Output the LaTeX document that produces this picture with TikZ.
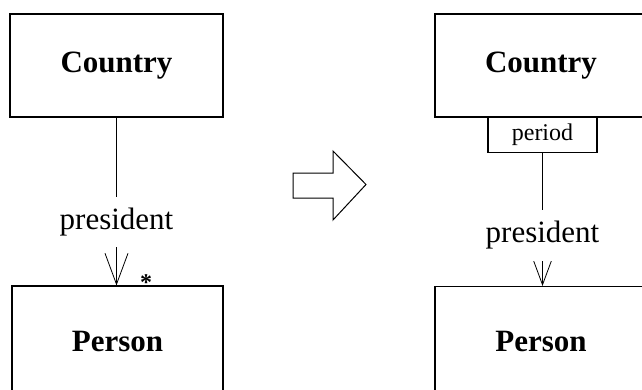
\documentclass[tikz,border=0pt]{standalone}
\usepackage{fontspec}
\setmainfont{Liberation Serif}
\usetikzlibrary{arrows.meta}

\tikzset{
	classbox/.style = {draw, line width=1.1pt, font=\fontsize{31}{36}\selectfont\bfseries},
	qualbox/.style = {draw, line width=1.6pt, fill=white, font=\fontsize{24}{28}\selectfont},
	assoc/.style = {line width=0.8pt, -{Straight Barb[length=31pt,width=23pt,line width=0.8pt]}},
	rolename/.style = {fill=white, inner xsep=2pt, inner ysep=11pt, font=\fontsize{31}{36}\selectfont}
}

\begin{document}
\begin{tikzpicture}[x=1pt, y=1pt]
				\useasboundingbox (0,0) rectangle (642,389);
				% before
				\node[classbox, minimum width=213pt, minimum height=103pt] (countryA) at (116.5,323.5) {Country};
				\node[classbox, minimum width=211pt, minimum height=110pt] (personA) at (117.5,48) {Person};
				\draw[assoc] (countryA.south) -- node[rolename, pos=0.62] (roleA) {president} (countryA.south |- personA.north);
				\node[font=\fontsize{24}{28}\selectfont\bfseries] (multA) at (146,106) {*};
				% transformation
				\draw[line width=1pt] (293,216) -- (333,216) -- (333,238) -- (366,204.5) -- (333,169) -- (333,191) -- (293,191) -- cycle;
				% after
				\node[classbox, minimum width=212pt, minimum height=103pt] (countryB) at (541,323.5) {Country};
				\node[classbox, minimum width=212pt, minimum height=110pt] (personB) at (541,47.5) {Person};
				\node[qualbox, minimum width=109pt, minimum height=35pt, inner sep=0pt] (period) at (542.5,254) {period};
				\draw[assoc] (period.south) -- node[rolename, pos=0.62] (roleB) {president} (period.south |- personB.north);
			\end{tikzpicture}
\end{document}
